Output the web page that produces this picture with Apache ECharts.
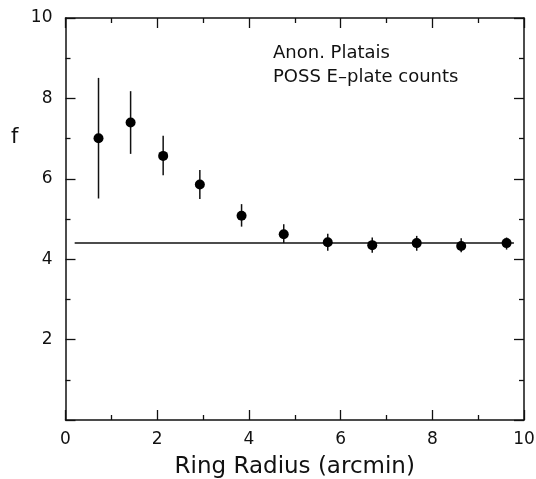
<!DOCTYPE html>
<html>
<head>
<meta charset="utf-8">
<script src="https://cdn.jsdelivr.net/npm/echarts@6/dist/echarts.min.js"></script>
<style>
  html, body { margin: 0; padding: 0; background: #fff; }
  #chart { width: 536px; height: 479px; }
</style>
</head>
<body>
<div id="chart"></div>
<script>
// values
const radius = [0.72, 1.42, 2.13, 2.93, 3.84, 4.76, 5.72, 6.69, 7.66, 8.63, 9.62];
const fVal   = [7.01, 7.40, 6.57, 5.86, 5.08, 4.62, 4.42, 4.35, 4.40, 4.33, 4.40];
const fLow   = [5.51, 6.62, 6.09, 5.50, 4.81, 4.40, 4.21, 4.16, 4.21, 4.17, 4.24];
const fHigh  = [8.51, 8.18, 7.07, 6.22, 5.37, 4.87, 4.63, 4.54, 4.58, 4.52, 4.54];
const levelX = [0.2, 9.78];
const levelY = [4.4, 4.4];
const xTicks = [0, 2, 4, 6, 8, 10];
const yTicks = [2, 4, 6, 8, 10];

const ink = '#111';
const font = 'DejaVu Sans';

const chart = echarts.init(document.getElementById('chart'));

function frameAxis(extra) {
  return Object.assign({
    type: 'value',
    min: 0,
    max: 10,
    interval: 2,
    splitLine: { show: false },
    axisLine: { show: true, onZero: false, lineStyle: { color: ink, width: 1.5 } },
    axisTick: { show: true, inside: true, length: 10, lineStyle: { color: ink, width: 1.3 } },
    minorTick: { show: true, splitNumber: 2, length: 5, lineStyle: { color: ink, width: 1.3 } },
    axisLabel: { show: false }
  }, extra);
}

chart.setOption({
  animation: false,
  grid: { left: 65.5, right: 12, top: 18, bottom: 59, containLabel: false, outerBoundsMode: 'none' },
  xAxis: [
    frameAxis({
      position: 'bottom',
      name: 'Ring Radius (arcmin)',
      nameLocation: 'middle',
      nameGap: 36,
      nameTextStyle: { fontFamily: font, fontSize: 23, color: ink },
      axisLabel: {
        show: true, margin: 11, fontFamily: font, fontSize: 17, color: ink,
        formatter: v => (xTicks.includes(v) ? String(v) : '')
      }
    }),
    frameAxis({ position: 'top' })
  ],
  yAxis: [
    frameAxis({
      position: 'left',
      axisLabel: {
        show: true, margin: 13, fontFamily: font, fontSize: 17, color: ink,
        formatter: v => (yTicks.includes(v) ? String(v) : '')
      }
    }),
    frameAxis({ position: 'right' })
  ],
  graphic: [
    { type: 'text', left: 11, top: 127, style: { text: 'f', fontFamily: font, fontSize: 21, fill: ink } },
    { type: 'text', left: 273, top: 44, style: { text: 'Anon. Platais', fontFamily: font, fontSize: 18, fill: ink } },
    { type: 'text', left: 273, top: 68, style: { text: 'POSS E\u2013plate counts', fontFamily: font, fontSize: 18, fill: ink } }
  ],
  series: [
    {
      type: 'line',
      data: levelX.map((x, i) => [x, levelY[i]]),
      symbol: 'none',
      lineStyle: { color: ink, width: 1.5 },
      z: 1
    },
    {
      type: 'custom',
      data: radius.map((x, i) => [x, fLow[i], fHigh[i]]),
      renderItem: (params, api) => {
        const lo = api.coord([api.value(0), api.value(1)]);
        const hi = api.coord([api.value(0), api.value(2)]);
        return {
          type: 'line',
          shape: { x1: lo[0], y1: lo[1], x2: hi[0], y2: hi[1] },
          style: { stroke: ink, lineWidth: 1.5 }
        };
      },
      z: 2
    },
    {
      type: 'scatter',
      data: radius.map((x, i) => [x, fVal[i]]),
      symbol: 'circle',
      symbolSize: 10,
      itemStyle: { color: '#000', opacity: 1 },
      z: 3
    }
  ]
});
</script>
</body>
</html>
